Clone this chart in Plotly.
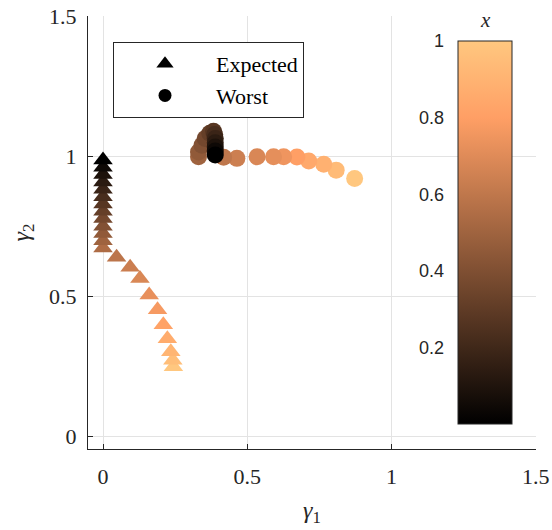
import plotly.graph_objects as go

# ---------------- data ----------------
exp_g1 = [0, 0, 0, 0, 0, 0, 0, 0, 0, 0, 0, 0, 0,
          0.047, 0.094, 0.128, 0.160, 0.189, 0.209, 0.223, 0.235, 0.242, 0.244]
exp_g2 = [0.986, 0.960, 0.934, 0.908, 0.882, 0.855, 0.829, 0.803, 0.777, 0.750, 0.724, 0.698, 0.672,
          0.639, 0.603, 0.563, 0.504, 0.451, 0.398, 0.348, 0.301, 0.271, 0.248]
exp_t = [0.000, 0.045, 0.091, 0.136, 0.182, 0.227, 0.273, 0.318, 0.364, 0.409, 0.455, 0.500, 0.545,
         0.591, 0.636, 0.682, 0.727, 0.773, 0.818, 0.864, 0.909, 0.955, 1.000]

wor_g1 = [0.389, 0.389, 0.389, 0.389, 0.389, 0.387, 0.383, 0.370, 0.354, 0.343, 0.331, 0.331,
          0.418, 0.464, 0.534, 0.591, 0.626, 0.672, 0.713, 0.765, 0.808, 0.872]
wor_g2 = [1.004, 1.018, 1.033, 1.048, 1.063, 1.077, 1.089, 1.082, 1.063, 1.039, 1.015, 0.998,
          0.996, 0.992, 0.998, 0.998, 0.998, 0.997, 0.983, 0.971, 0.950, 0.920]
wor_t = [0.000, 0.045, 0.091, 0.136, 0.182, 0.227, 0.273, 0.318, 0.364, 0.409, 0.455, 0.500,
         0.600, 0.640, 0.680, 0.720, 0.750, 0.800, 0.850, 0.890, 0.940, 1.000]

axis_ticks = [0, 0.5, 1, 1.5]
axis_ticktext = ["0", "0.5", "1", "1.5"]
cbar_ticks = [0.2, 0.4, 0.6, 0.8, 1]
cbar_ticktext = ["0.2", "0.4", "0.6", "0.8", "1"]

# MATLAB "copper" colormap
copper = [[0.0, "rgb(0,0,0)"], [0.8, "rgb(255,159,101)"], [1.0, "rgb(255,199,127)"]]

# ---------------- geometry (px) ----------------
W, H = 552, 530
L, R, T, B = 88, 16, 16, 81
pw, ph = W - L - R, H - T - B
cb_left, cb_right, cb_top, cb_bot = 458, 512, 41, 424

def px2x(px):
    return (px - L) / pw

def px2y(py):
    return (H - B - py) / ph

serif = "Liberation Serif"
dark = "#262626"

fig = go.Figure()

# Expected (triangles) -- drawn from light to dark so darker sit on top
fig.add_trace(go.Scatter(
    x=exp_g1[::-1], y=exp_g2[::-1], mode="markers", showlegend=False,
    marker=dict(symbol="triangle-up", size=17, color=exp_t[::-1], colorscale=copper,
                cmin=0, cmax=1, line=dict(width=0),
                showscale=True,
                colorbar=dict(
                    x=px2x(cb_left), xanchor="left",
                    y=px2y((cb_top + cb_bot) / 2), yanchor="middle",
                    thickness=cb_right - cb_left, thicknessmode="pixels",
                    len=(cb_bot - cb_top) / ph, lenmode="fraction",
                    xpad=0, ypad=0, borderwidth=0,
                    outlinecolor=dark, outlinewidth=1,
                    showticklabels=False, ticks="")),
))

# Worst (circles)
fig.add_trace(go.Scatter(
    x=wor_g1[::-1], y=wor_g2[::-1], mode="markers", showlegend=False,
    marker=dict(symbol="circle", size=17, color=wor_t[::-1], colorscale=copper,
                cmin=0, cmax=1, line=dict(width=0), showscale=False),
))

# legend entries
fig.add_trace(go.Scatter(x=[None], y=[None], mode="markers", name="Expected",
                         marker=dict(symbol="triangle-up", size=15, color="black")))
fig.add_trace(go.Scatter(x=[None], y=[None], mode="markers", name="Worst",
                         marker=dict(symbol="circle", size=13, color="black")))

# dummy trace for colorbar tick axis
fig.add_trace(go.Scatter(x=[None], y=[None], xaxis="x2", yaxis="y2", showlegend=False,
                         hoverinfo="skip"))

axis_common = dict(
    showgrid=True, gridcolor="#e3e3e3", gridwidth=1, zeroline=False,
    showline=True, linecolor=dark, linewidth=1,
    ticks="inside", ticklen=5, tickcolor=dark, tickwidth=1,
    tickfont=dict(family=serif, size=22, color=dark),
    tickvals=axis_ticks, ticktext=axis_ticktext, automargin=False,
)

fig.update_layout(
    width=W, height=H,
    margin=dict(l=L, r=R, t=T, b=B, autoexpand=False),
    paper_bgcolor="white", plot_bgcolor="rgba(0,0,0,0)",
    xaxis=dict(axis_common, range=[-0.052, 1.5005], domain=[0, 1],
               title=dict(text="<i>γ</i><sub>1</sub>", font=dict(family=serif, size=24, color=dark),
                          standoff=12),
               ticklabelstandoff=8),
    yaxis=dict(axis_common, range=[-0.046, 1.5005], domain=[0, 1],
               title=dict(text="<i>γ</i><sub>2</sub>", font=dict(family=serif, size=24, color=dark),
                          standoff=12),
               ticklabelstandoff=6),
    xaxis2=dict(domain=[px2x(cb_left), px2x(cb_right)], range=[0, 1], visible=False,
                anchor="y2", fixedrange=True, automargin=False),
    yaxis2=dict(domain=[px2y(cb_bot), px2y(cb_top)], range=[0, 1], anchor="x2", side="left",
                showgrid=False, zeroline=False, showline=False,
                ticks="inside", ticklen=4, tickcolor=dark,
                tickvals=cbar_ticks, ticktext=cbar_ticktext,
                tickfont=dict(family="Liberation Sans", size=18, color=dark),
                ticklabelstandoff=13, fixedrange=True, automargin=False),
    legend=dict(x=px2x(113), y=px2y(42), xanchor="left", yanchor="top",
                bgcolor="white", bordercolor=dark, borderwidth=1,
                font=dict(family=serif, size=22, color="black"),
                itemwidth=92, tracegroupgap=0),
    showlegend=True,
    annotations=[dict(text="<i>x</i>", x=px2x((cb_left + cb_right) / 2), y=px2y(20),
                      xref="paper", yref="paper", xanchor="center", yanchor="middle",
                      showarrow=False, font=dict(family=serif, size=21, color=dark))],
)

fig.write_html("out.html")
